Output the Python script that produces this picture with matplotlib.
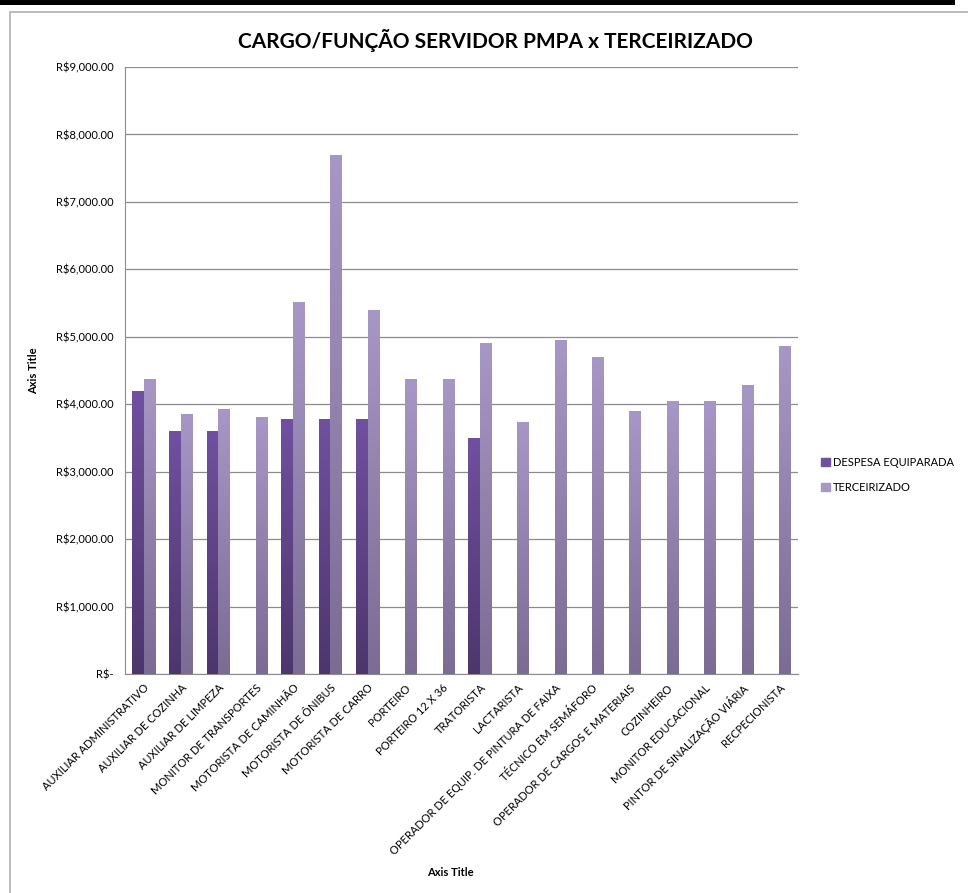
import matplotlib.pyplot as plt
import matplotlib.patches as patches
from matplotlib.ticker import FuncFormatter
import numpy as np

plt.rcParams['font.family'] = ['Lato', 'DejaVu Sans']

# Dados
cargos = [
    'AUXILIAR ADMINISTRATIVO', 'AUXILIAR DE COZINHA', 'AUXILIAR DE LIMPEZA',
    'MONITOR DE TRANSPORTES', 'MOTORISTA DE CAMINHÃO', 'MOTORISTA DE ÔNIBUS',
    'MOTORISTA DE CARRO', 'PORTEIRO', 'PORTEIRO 12 X 36', 'TRATORISTA',
    'LACTARISTA', 'OPERADOR DE EQUIP. DE PINTURA DE FAIXA', 'TÉCNICO EM SEMÁFORO',
    'OPERADOR DE CARGOS E MATERIAIS', 'COZINHEIRO', 'MONITOR EDUCACIONAL',
    'PINTOR DE SINALIZAÇÃO VIÁRIA', 'RECPECIONISTA',
]
despesa = [4200, 3600, 3600, 0, 3780, 3780, 3780, 0, 0, 3500,
           0, 0, 0, 0, 0, 0, 0, 0]
terceirizado = [4380, 3860, 3930, 3810, 5510, 7690, 5390, 4380, 4380, 4900,
                3740, 4950, 4700, 3900, 4040, 4040, 4280, 4860]
series = ['DESPESA EQUIPARADA', 'TERCEIRIZADO']

# Cores (topo, base) para o degradê
cores = {
    'DESPESA EQUIPARADA': ('#7050a0', '#4d366c'),
    'TERCEIRIZADO': ('#a797c6', '#7a6c93'),
}

fig = plt.figure(figsize=(9.68, 8.93), dpi=100)
ax = fig.add_axes([0.129, 0.2453, 0.695, 0.6797])

# Moldura do gráfico
fig.patches.append(patches.Rectangle((10 / 968, -0.05), 1, 1.05 - 12 / 893, transform=fig.transFigure,
                                     fill=False, edgecolor='#b0b0b0', linewidth=1.2))
fig.patches.append(patches.Rectangle((0, 1 - 5 / 893), 955 / 968, 5 / 893, transform=fig.transFigure,
                                     facecolor='black', edgecolor='none'))

x = np.arange(len(cargos))
w = 0.31
grad = np.linspace(0, 1, 256).reshape(-1, 1)


def barras_degrade(xpos, vals, nome):
    top, bot = cores[nome]
    bars = ax.bar(xpos, vals, w, color=top, label=nome, zorder=2)
    cmap = plt.matplotlib.colors.LinearSegmentedColormap.from_list(nome, [bot, top])
    for b in bars:
        if b.get_height() <= 0:
            continue
        bx, by = b.get_x(), b.get_y()
        bw, bh = b.get_width(), b.get_height()
        im = ax.imshow(grad, extent=[bx, bx + bw, by, by + bh], origin='lower',
                       aspect='auto', cmap=cmap, zorder=3)
        im.set_clip_path(b)
    return bars


barras_degrade(x - w / 2, despesa, series[0])
barras_degrade(x + w / 2, terceirizado, series[1])

ax.set_xlim(-0.5, len(cargos) - 0.5)
ax.set_ylim(0, 9000)
ax.set_yticks(np.arange(0, 9001, 1000))
ax.yaxis.set_major_formatter(FuncFormatter(lambda v, p: 'R$-' if v == 0 else f'R${v:,.2f}'))
ax.grid(axis='y', color='#8c8c8c', linewidth=0.9, zorder=0)
ax.set_axisbelow(True)

ax.set_xticks(x)
ax.set_xticklabels(cargos, rotation=45, ha='right', rotation_mode='anchor', fontsize=8)
ax.tick_params(axis='y', labelsize=8, length=0, pad=8)
ax.tick_params(axis='x', length=0, pad=6)

for s in ['top', 'right']:
    ax.spines[s].set_visible(False)
for s in ['left', 'bottom']:
    ax.spines[s].set_color('#8c8c8c')

ax.set_ylabel('Axis Title', fontsize=8, fontweight='bold')
ax.yaxis.set_label_coords(-0.127, 0.5)
fig.text(450 / 968, 1 - 873 / 893, 'Axis Title', ha='center', va='center',
         fontsize=8, fontweight='bold')

fig.text(495 / 968, 1 - 41 / 893, 'CARGO/FUNÇÃO SERVIDOR PMPA x TERCEIRIZADO',
         ha='center', va='center', fontsize=15, fontweight='bold')

handles = [patches.Patch(color=cores[s][0], label=s) for s in series]
ax.legend(handles=handles, loc='center left', bbox_to_anchor=(1.02, 0.328),
          frameon=False, fontsize=8, handlelength=0.8, handleheight=0.8,
          handletextpad=0.3, labelspacing=1.3)

plt.savefig('out.png', dpi=100)
